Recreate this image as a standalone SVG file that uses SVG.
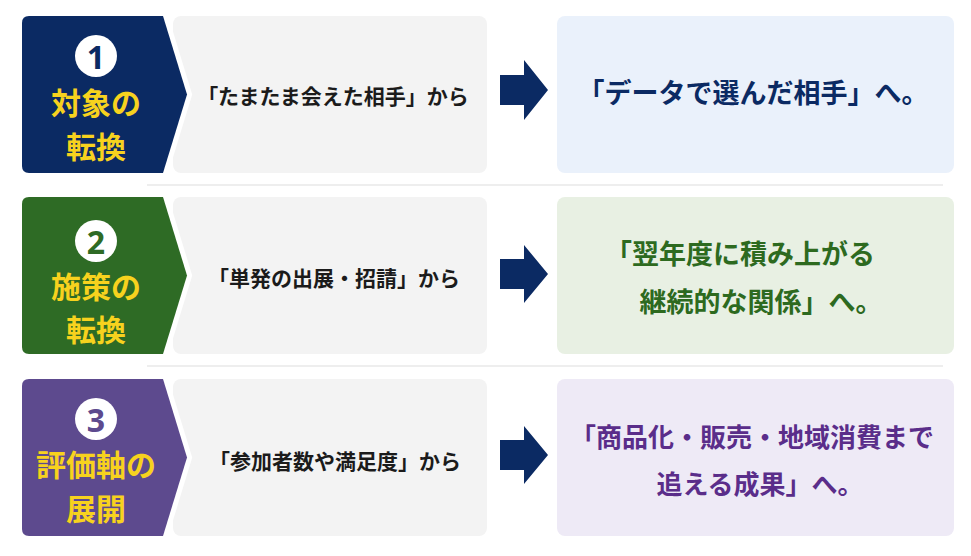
<svg xmlns="http://www.w3.org/2000/svg" width="971" height="556" viewBox="0 0 971 556">
<style>
text { font-family: "Noto Sans CJK JP", "Noto Sans", sans-serif; font-weight: 700; }
.title { font-size: 30px; fill: #f7d21e; text-anchor: middle; dominant-baseline: central; }
.num { font-family: "Noto Sans", "Liberation Sans", sans-serif; font-size: 32px; text-anchor: middle; dominant-baseline: central; }
.from { font-size: 21px; fill: #1b1b1b; text-anchor: middle; dominant-baseline: central; }
.to { font-size: 27px; text-anchor: middle; dominant-baseline: central; }
.gray { fill: #f3f3f3; }
.chev { stroke: #ffffff; stroke-width: 10; paint-order: stroke; stroke-linejoin: miter; }
.sep { stroke: #eeeeee; stroke-width: 2; }
.arrow { fill: #0b2a63; }
</style>
<rect width="971" height="556" fill="#ffffff"/>
<g id="separators">
<line class="sep" x1="147" y1="185" x2="943" y2="185"/>
<line class="sep" x1="147" y1="366" x2="943" y2="366"/>
</g>
<g id="row1">
<rect class="gray" x="173" y="16" width="314" height="157" rx="8"/>
<path class="chev" fill="#0b2a63" d="M29 16 H163 L187 94.5 L163 173 H29 Q22 173 22 166 V23 Q22 16 29 16 Z"/>
<circle cx="96" cy="56" r="21" fill="#ffffff"/>
<text class="num" x="96" y="56" fill="#0b2a63">1</text>
<text class="title" x="96" y="101">対象の</text>
<text class="title" x="96" y="145">転換</text>
<text class="from" x="333" y="95">「たまたま会えた相手」から</text>
<rect x="557" y="16" width="397" height="157" rx="8" fill="#eaf1fb"/>
<text class="to" x="753" y="91" fill="#0b2a63">「データで選んだ相手」へ。</text>
</g>
<g id="row2">
<rect class="gray" x="173" y="197" width="314" height="157" rx="8"/>
<path class="chev" fill="#2e6b25" d="M29 197 H163 L187 275.5 L163 354 H29 Q22 354 22 347 V204 Q22 197 29 197 Z"/>
<circle cx="96" cy="241" r="21" fill="#ffffff"/>
<text class="num" x="96" y="241" fill="#2e6b25">2</text>
<text class="title" x="96" y="285">施策の</text>
<text class="title" x="96" y="328">転換</text>
<text class="from" x="334" y="277">「単発の出展・招請」から</text>
<rect x="557" y="197" width="397" height="157" rx="8" fill="#e8f0e3"/>
<text class="to" fill="#2d6a1f"><tspan x="740" y="252">「翌年度に積み上がる</tspan><tspan x="761" y="300">継続的な関係」へ。</tspan></text>
</g>
<g id="row3">
<rect class="gray" x="173" y="379" width="314" height="157" rx="8"/>
<path class="chev" fill="#5d4a8e" d="M29 379 H163 L187 457.5 L163 536 H29 Q22 536 22 529 V386 Q22 379 29 379 Z"/>
<circle cx="96" cy="419" r="21" fill="#ffffff"/>
<text class="num" x="96" y="419" fill="#5d4a8e">3</text>
<text class="title" x="96" y="463">評価軸の</text>
<text class="title" x="96" y="507">展開</text>
<text class="from" x="335" y="460">「参加者数や満足度」から</text>
<rect x="557" y="379" width="397" height="157" rx="8" fill="#eeeaf6"/>
<text class="to" fill="#5a2d8a" style="font-size:26px"><tspan x="752" y="435">「商品化・販売・地域消費まで</tspan><tspan x="760" y="482">追える成果」へ。</tspan></text>
</g>
<g id="connectors">
<path class="arrow" d="M500 75 H524 V60 L548 90 L524 120 V105 H500 Z"/>
<path class="arrow" d="M500 259 H524 V245 L548 274 L524 303 V289 H500 Z"/>
<path class="arrow" d="M500 440 H524 V426 L548 455 L524 484 V470 H500 Z"/>
</g>
</svg>
